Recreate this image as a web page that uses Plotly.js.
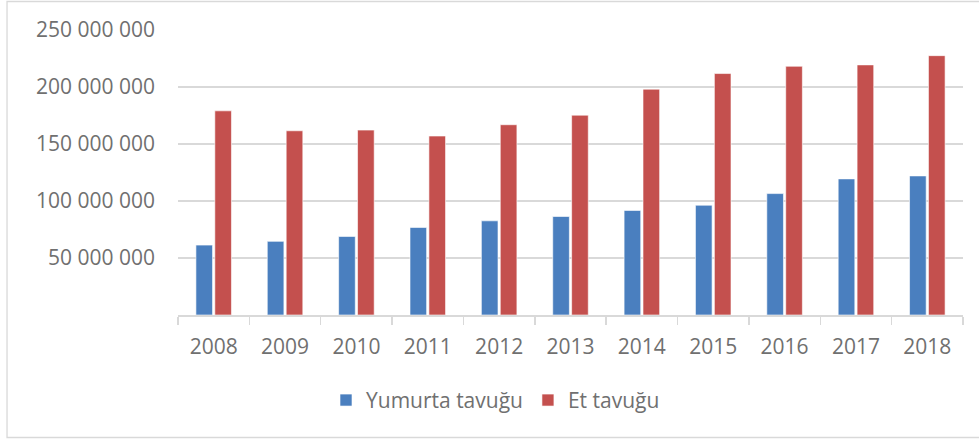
<!DOCTYPE html>
<html>
<head>
<meta charset="utf-8">
<script src="https://cdn.plot.ly/plotly-3.0.1.min.js"></script>
<style>
html,body{margin:0;padding:0;background:#fff;}
#chart{width:979px;height:440px;}
</style>
</head>
<body>
<div id="chart"></div>
<script>
const years = ['2008','2009','2010','2011','2012','2013','2014','2015','2016','2017','2018'];
const yumurtaTavugu = [61300000, 64600000, 68900000, 76800000, 82600000, 86400000, 91700000, 96300000, 106500000, 119400000, 122000000];
const etTavugu = [179100000, 161600000, 162200000, 157000000, 166900000, 175300000, 198100000, 211800000, 218200000, 219400000, 227500000];
const yTickVals = [0, 50000000, 100000000, 150000000, 200000000, 250000000];
const yTickText = ['', '50 000 000', '100 000 000', '150 000 000', '200 000 000', '250 000 000'];
const seriesNames = ['Yumurta tavuğu', 'Et tavuğu'];

const fontFam = '"Open Sans", "Liberation Sans", sans-serif';
const textColor = '#707070';

const traces = [
  {type:'bar', x:years, y:yumurtaTavugu, name:seriesNames[0],
   marker:{color:'#4A7FBF', line:{color:'rgba(255,255,255,0.6)', width:1}}},
  {type:'bar', x:years, y:etTavugu, name:seriesNames[1],
   marker:{color:'#C4504E', line:{color:'rgba(255,255,255,0.6)', width:1}}}
];

const layout = {
  width:979, height:440,
  margin:{l:178, r:16, t:30, b:125},
  paper_bgcolor:'#ffffff', plot_bgcolor:'#ffffff',
  barmode:'group', bargap:0.47, bargroupgap:0.12,
  font:{family:fontFam, color:textColor, size:21},
  showlegend:true,
  legend:{orientation:'h', x:0.333, xref:'container', xanchor:'left', y:0.09, yref:'container', yanchor:'middle',
          font:{family:fontFam, size:21, color:textColor}, itemgap:18},
  xaxis:{type:'category', showgrid:false, showline:true, linecolor:'#d9d9d9', linewidth:1.5,
         ticks:'outside', ticklen:8, tickcolor:'#d9d9d9', tickwidth:1.5, tickson:'boundaries',
         ticklabelstandoff:12, tickfont:{family:fontFam, size:21, color:textColor}},
  yaxis:{range:[0,250000000], tickvals:yTickVals, ticktext:yTickText, showgrid:true, gridcolor:'#d9d9d9', gridwidth:1.3,
         zeroline:false, showline:false, ticks:'', ticklabelstandoff:22,
         tickfont:{family:fontFam, size:21, color:textColor}},
  shapes:[{type:'rect', xref:'paper', yref:'paper', x0:-0.2178, x1:1.03, y0:-0.4298, y1:1.1,
           line:{color:'#d9d9d9', width:1.3}, fillcolor:'rgba(0,0,0,0)', layer:'below'}]
};

Plotly.newPlot('chart', traces, layout, {displayModeBar:false, staticPlot:true});
</script>
</body>
</html>
